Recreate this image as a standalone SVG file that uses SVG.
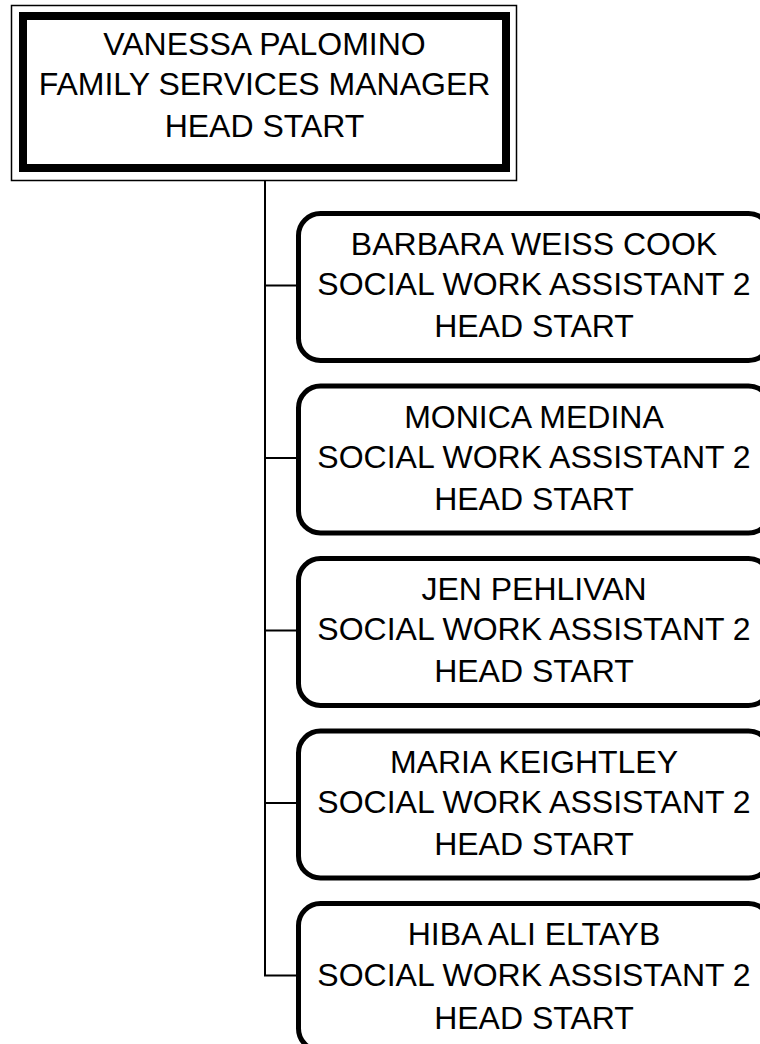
<svg xmlns="http://www.w3.org/2000/svg" width="760" height="1044" viewBox="0 0 760 1044">
<style>
text{font-family:"Liberation Sans",Arial,sans-serif;font-size:32px;fill:#000;text-anchor:middle}
.child{fill:#fff;stroke:#000;stroke-width:5}
.conn{fill:none;stroke:#000;stroke-width:2}
</style>
<rect width="760" height="1044" fill="#fff"/>
<g id="connectors">
<path class="conn" d="M265 181V975.5H298"/>
<path class="conn" d="M265 285.5H298M265 458H298M265 630.5H298M265 803H298"/>
</g>
<g id="root">
<rect x="11.5" y="5.5" width="505" height="175" fill="#fff" stroke="#000" stroke-width="1.5"/>
<rect x="23" y="16" width="483" height="152" fill="#fff" stroke="#000" stroke-width="8"/>
<text x="264.5" y="55">VANESSA PALOMINO</text>
<text x="264.5" y="95">FAMILY SERVICES MANAGER</text>
<text x="264.5" y="137">HEAD START</text>
</g>
<g id="n1">
<rect class="child" x="298.5" y="213.5" width="472" height="147" rx="22"/>
<text x="534" y="255">BARBARA WEISS COOK</text>
<text x="534" y="295">SOCIAL WORK ASSISTANT 2</text>
<text x="534" y="337">HEAD START</text>
</g>
<g id="n2">
<rect class="child" x="298.5" y="386" width="472" height="147" rx="22"/>
<text x="534" y="427.5">MONICA MEDINA</text>
<text x="534" y="467.5">SOCIAL WORK ASSISTANT 2</text>
<text x="534" y="509.5">HEAD START</text>
</g>
<g id="n3">
<rect class="child" x="298.5" y="558.5" width="472" height="147" rx="22"/>
<text x="534" y="600">JEN PEHLIVAN</text>
<text x="534" y="640">SOCIAL WORK ASSISTANT 2</text>
<text x="534" y="682">HEAD START</text>
</g>
<g id="n4">
<rect class="child" x="298.5" y="731" width="472" height="147" rx="22"/>
<text x="534" y="772.5">MARIA KEIGHTLEY</text>
<text x="534" y="812.5">SOCIAL WORK ASSISTANT 2</text>
<text x="534" y="854.5">HEAD START</text>
</g>
<g id="n5">
<rect class="child" x="298.5" y="903.5" width="472" height="147" rx="22"/>
<text x="534" y="945">HIBA ALI ELTAYB</text>
<text x="534" y="986">SOCIAL WORK ASSISTANT 2</text>
<text x="534" y="1029">HEAD START</text>
</g>
</svg>
